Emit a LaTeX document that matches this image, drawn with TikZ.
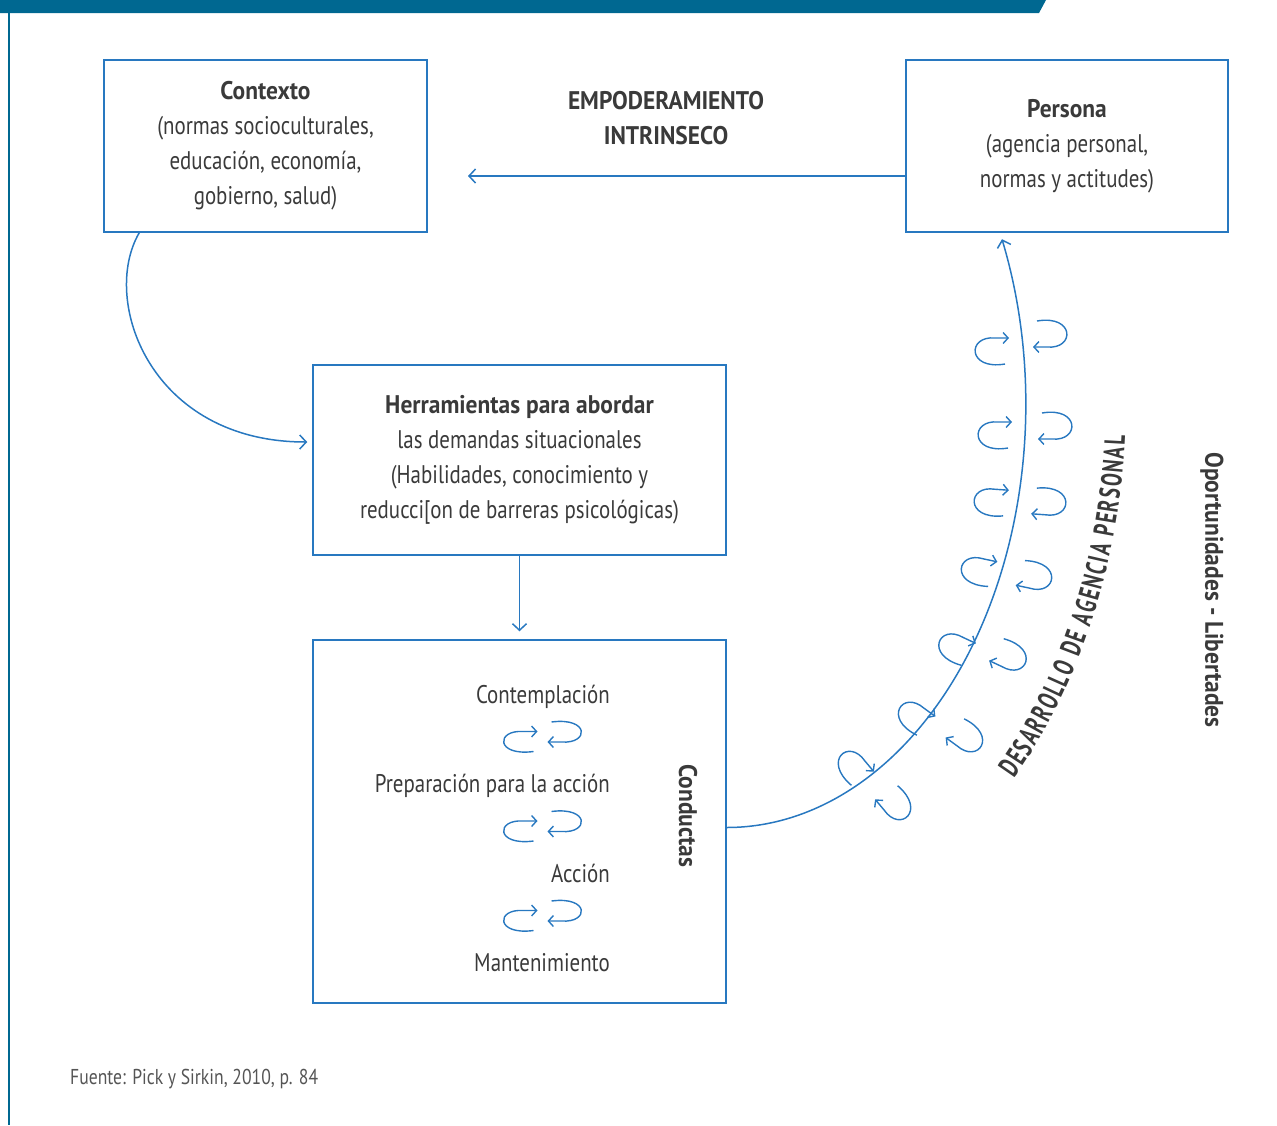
\documentclass[tikz,border=0pt]{standalone}
\usepackage{fontspec}
\setmainfont{PT Sans}[UprightFeatures={FakeStretch=0.82}, BoldFeatures={FakeStretch=0.92}]
\newfontfamily\arcfont{PT Sans}[FakeStretch=0.66]
\usetikzlibrary{arrows.meta,calc,decorations.text}
\definecolor{barblue}{RGB}{0,104,145}
\definecolor{lineblue}{RGB}{40,120,192}
\definecolor{ink}{RGB}{58,58,58}
\definecolor{note}{RGB}{85,85,85}
\begin{document}
\begin{tikzpicture}[x=1pt,y=1pt,
  box/.style={draw=lineblue, line width=1.5pt, inner sep=0pt, align=center,
    text=ink, font=\fontsize{25.5}{35}\selectfont},
  flow/.style={draw=lineblue, line width=1.5pt},
  tip/.style={-{Straight Barb[length=6.5pt,width=14pt]}},
  lbl/.style={text=ink, inner sep=0pt, font=\fontsize{25.5}{35}\selectfont},
  swirl/.pic={\draw[draw=lineblue, line width=1.4pt, -{Straight Barb[length=5pt,width=11pt]}]
    (13,-10) .. controls (-25,-15) and (-25,12) .. (3,10) -- (17,10);}
]
\useasboundingbox (0,0) rectangle (1277,-1125);

% header band and left rule
\fill[barblue] (0,0) -- (1046,0) -- (1039,-13) -- (0,-13) -- cycle;
\draw[barblue, line width=1.2pt] (9,-13) -- (9,-1125);

% boxes
\node[box, minimum width=323pt, minimum height=172pt] (ctx) at (265.5,-146)
  {\textbf{Contexto}\\(normas socioculturales,\\educación, economía,\\gobierno, salud)};
\node[box, minimum width=322pt, minimum height=172pt] (pers) at (1067,-146)
  {\textbf{Persona}\\(agencia personal,\\normas y actitudes)};
\node[box, minimum width=413pt, minimum height=190pt] (herr) at (519.5,-460)
  {\textbf{Herramientas para abordar}\\las demandas situacionales\\(Habilidades, conocimiento y\\reducci[on de barreras psicológicas)};
\node[box, minimum width=413pt, minimum height=363pt] (cond) at (519.5,-821.5) {};

% label over the top arrow
\node[lbl, align=center, font=\fontsize{25.5}{35}\selectfont\bfseries] (emp) at (666,-118)
  {EMPODERAMIENTO\\INTRINSECO};

% stages of behaviour
\node[lbl, anchor=base east] (s1) at (610,-703) {Contemplación};
\node[lbl, anchor=base east] (s2) at (610,-792) {Preparación para la acción};
\node[lbl, anchor=base east] (s3) at (610,-882) {Acción};
\node[lbl, anchor=base east] (s4) at (610,-971) {Mantenimiento};
\foreach \y in {741.5,831,920.5}{
  \pic at (520.5,-\y) {swirl};
  \pic[rotate=180] at (564.5,-\y+9.5) {swirl};
}
\node[lbl, rotate=-90, font=\fontsize{25.5}{35}\selectfont\bfseries] (condlbl) at (688,-816) {Conductas};

% connectors
\coordinate (empend) at (468,-176);
\draw[flow, tip] ($(pers.west)+(0,-30)$) -- (empend);
\draw[flow, tip] ($(ctx.south west)+(36,0)$) .. controls (100,-300) and (150,-442) .. ($(herr.west)+(-5,18)$);
\draw[flow, tip] (herr.south) -- ($(cond.north)+(0,8)$);
\draw[flow, tip] ($(cond.east)+(0,-6)$) arc[start angle=-90, end angle=23, x radius=299, y radius=423];

% swirls along the development arc
\foreach \xi/\yi/\xo/\yo/\r in {
  992/351/1050/334/0,
  995/435/1055/426/0,
  991/502/1049/502/-4,
  978/571/1035/576/-12,
  955/648/1010/656/-25,
  914/717/967/737/-36,
  853/767/896/804/-50}{
  \pic[rotate=\r, yscale=1.3] at (\xi,-\yi) {swirl};
  \pic[rotate=180+\r, yscale=1.3] at (\xo,-\yo) {swirl};
}

% curved label of the development arc
\path[decorate, decoration={text along path, text align=fit to path,
    text={|\arcfont\fontsize{29}{29}\selectfont\bfseries\color{ink}|DESARROLLO DE AGENCIA PERSONAL}}]
  (726,-400) ++(-44:400 and 545) arc[start angle=-44, end angle=-3.8, x radius=400, y radius=545];

\node[lbl, rotate=-90, font=\fontsize{25.5}{35}\selectfont\bfseries] (oport) at (1212,-590) {Oportunidades - Libertades};

\node[inner sep=0pt, anchor=base west, text=note, font=\fontsize{21.5}{24}\selectfont] (src) at (70,-1084)
  {Fuente: Pick y Sirkin, 2010, p. 84};
\end{tikzpicture}
\end{document}
